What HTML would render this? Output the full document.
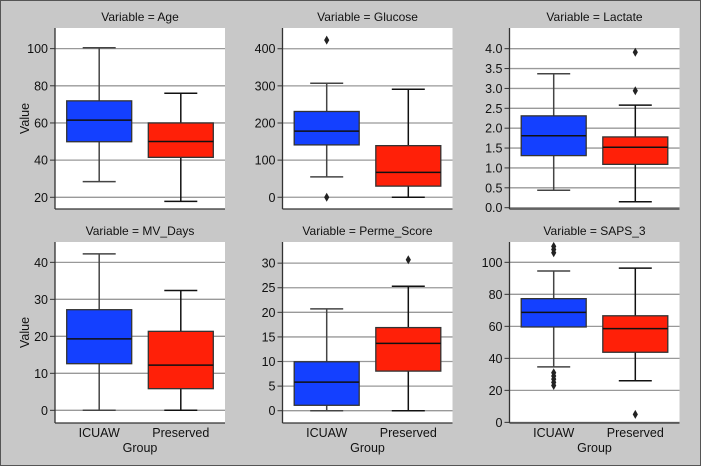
<!DOCTYPE html>
<html><head><meta charset="utf-8"><style>
html,body{margin:0;padding:0;background:#c8c8c8;}
svg{display:block;font-family:"Liberation Sans",sans-serif;}
</style></head><body>
<svg id="chart" width="701" height="466" viewBox="0 0 701 466" xmlns="http://www.w3.org/2000/svg">
<rect x="0.5" y="0.5" width="700" height="465" fill="#c8c8c8" stroke="#555"/>
</svg>
<script>
const variables = ["Age","Glucose","Lactate","MV_Days","Perme_Score","SAPS_3"];
const groups = ["ICUAW","Preserved"];
// [low whisker, Q1, median, Q3, high whisker] per group
const ageStats = [[28.4,49.9,61.5,71.9,100.5],[17.8,41.5,50,60,76]];
const glucoseStats = [[55,141,178,231,307],[0,30,67,139,291]];
const lactateStats = [[0.44,1.31,1.81,2.31,3.37],[0.15,1.09,1.52,1.78,2.58]];
const mvStats = [[0,12.6,19.3,27.2,42.3],[0,5.85,12.2,21.35,32.4]];
const permeStats = [[0,1.1,5.8,9.95,20.7],[0,8.05,13.7,16.9,25.3]];
const sapsStats = [[34.7,59.6,68.7,77.3,94.6],[26,43.8,58.6,66.6,96.4]];
const ageOut = [[],[]];
const glucoseOut = [[423,0],[]];
const lactateOut = [[],[2.94,3.91]];
const mvOut = [[],[]];
const permeOut = [[],[30.7]];
const sapsOut = [[106,108,110,31,29,27,25,23],[5]];
const ageTicks = [20,40,60,80,100];
const glucoseTicks = [0,100,200,300,400];
const lactateTicks = [0,0.5,1,1.5,2,2.5,3,3.5,4];
const lactateTickLabels = ["0.0","0.5","1.0","1.5","2.0","2.5","3.0","3.5","4.0"];
const mvTicks = [0,10,20,30,40];
const permeTicks = [0,5,10,15,20,25,30];
const sapsTicks = [0,20,40,60,80,100];
const ageRange = [13.7,111.1];
const glucoseRange = [-31.6,455.8];
const lactateRange = [-0.033,4.52];
const mvRange = [-3.43,45.5];
const permeRange = [-2.5,34.3];
const sapsRange = [-0.4,112.7];

const panels = [
 {stats:ageStats,out:ageOut,ticks:ageTicks,labels:null,range:ageRange,col:0,row:0},
 {stats:glucoseStats,out:glucoseOut,ticks:glucoseTicks,labels:null,range:glucoseRange,col:1,row:0},
 {stats:lactateStats,out:lactateOut,ticks:lactateTicks,labels:lactateTickLabels,range:lactateRange,col:2,row:0},
 {stats:mvStats,out:mvOut,ticks:mvTicks,labels:null,range:mvRange,col:0,row:1},
 {stats:permeStats,out:permeOut,ticks:permeTicks,labels:null,range:permeRange,col:1,row:1},
 {stats:sapsStats,out:sapsOut,ticks:sapsTicks,labels:null,range:sapsRange,col:2,row:1}
];
const lefts=[55,282.5,509.5], tops=[28,242], W=170, H=181;
const fills=["#1440ff","#ff2008"];
const svg=document.getElementById('chart');
const NS="http://www.w3.org/2000/svg";
function mk(tag,attrs,parent,text){const e=document.createElementNS(NS,tag);for(const k in attrs)e.setAttribute(k,attrs[k]);if(text!=null)e.textContent=text;(parent||svg).appendChild(e);return e;}
panels.forEach((p,i)=>{
  const L=lefts[p.col],T=tops[p.row],R=L+W,B=T+H;
  const g=mk('g',{});
  
  
  const y=v=>B-(v-p.range[0])/(p.range[1]-p.range[0])*H;
  const x=k=>L+W*(k===0?0.26:0.74);
  const bg=mk('rect',{x:L,y:T,width:W,height:H,fill:'#fff'},g);
  
  
  const t=mk('text',{x:L+W/2,y:T-7,'text-anchor':'middle','font-size':'12',fill:'#111'},g,'Variable = '+variables[i]);
  
  
  p.ticks.forEach((tv,j)=>{
    const yy=y(tv);
    const gl=mk('line',{x1:L,x2:R,y1:yy,y2:yy,stroke:'#999','stroke-width':1.3},g);
    
    
    mk('line',{x1:L-5,x2:L,y1:yy,y2:yy,stroke:'#333'},g);
    const tl=mk('text',{x:L-7,y:yy+4.5,'text-anchor':'end','font-size':'12.5',fill:'#111'},g,p.labels?p.labels[j]:String(tv));
    
    
  });
  mk('line',{x1:L,x2:L,y1:T,y2:B,stroke:'#333','stroke-width':1.3},g);
  mk('line',{x1:L,x2:R,y1:B,y2:B,stroke:'#333','stroke-width':1.3},g);
  p.stats.forEach((s,k)=>{
    const cx=x(k),bw=65,ws=k===0?'#444':'#111';
    const w1=mk('line',{x1:cx,x2:cx,y1:y(s[0]),y2:y(s[1]),stroke:ws,'stroke-width':1.5},g);
    
    
    const w2=mk('line',{x1:cx,x2:cx,y1:y(s[3]),y2:y(s[4]),stroke:ws,'stroke-width':1.5},g);
    
    
    mk('line',{x1:cx-16.5,x2:cx+16.5,y1:y(s[0]),y2:y(s[0]),stroke:ws,'stroke-width':1.5},g);
    mk('line',{x1:cx-16.5,x2:cx+16.5,y1:y(s[4]),y2:y(s[4]),stroke:ws,'stroke-width':1.5},g);
    const bx=mk('rect',{x:cx-bw/2,y:y(s[3]),width:bw,height:y(s[1])-y(s[3]),fill:fills[k],stroke:'#333','stroke-width':1.3},g);
    
    
    const md=mk('line',{x1:cx-bw/2,x2:cx+bw/2,y1:y(s[2]),y2:y(s[2]),stroke:'#111','stroke-width':1.5},g);
    
    
    p.out[k].forEach(o=>{
      const oy=y(o);
      const d=mk('path',{d:`M${cx} ${oy-4.5}L${cx+2.6} ${oy}L${cx} ${oy+4.5}L${cx-2.6} ${oy}Z`,fill:'#222'},g);
      
      
    });
    if(p.row===1){
      const xl=mk('text',{x:cx,y:B+14,'text-anchor':'middle','font-size':'12.5',fill:'#111'},g,groups[k]);
      
      
    }
  });
  if(p.row===1){
    const xt=mk('text',{x:L+W/2,y:B+29,'text-anchor':'middle','font-size':'12.5',fill:'#111'},g,'Group');
    
    
  }
  if(p.col===0){
    const yt=mk('text',{x:0,y:0,'text-anchor':'middle','font-size':'12.5',fill:'#111',transform:`translate(29,${T+H/2}) rotate(-90)`},g,'Value');
    
    
  }
});
</script>
</body></html>
